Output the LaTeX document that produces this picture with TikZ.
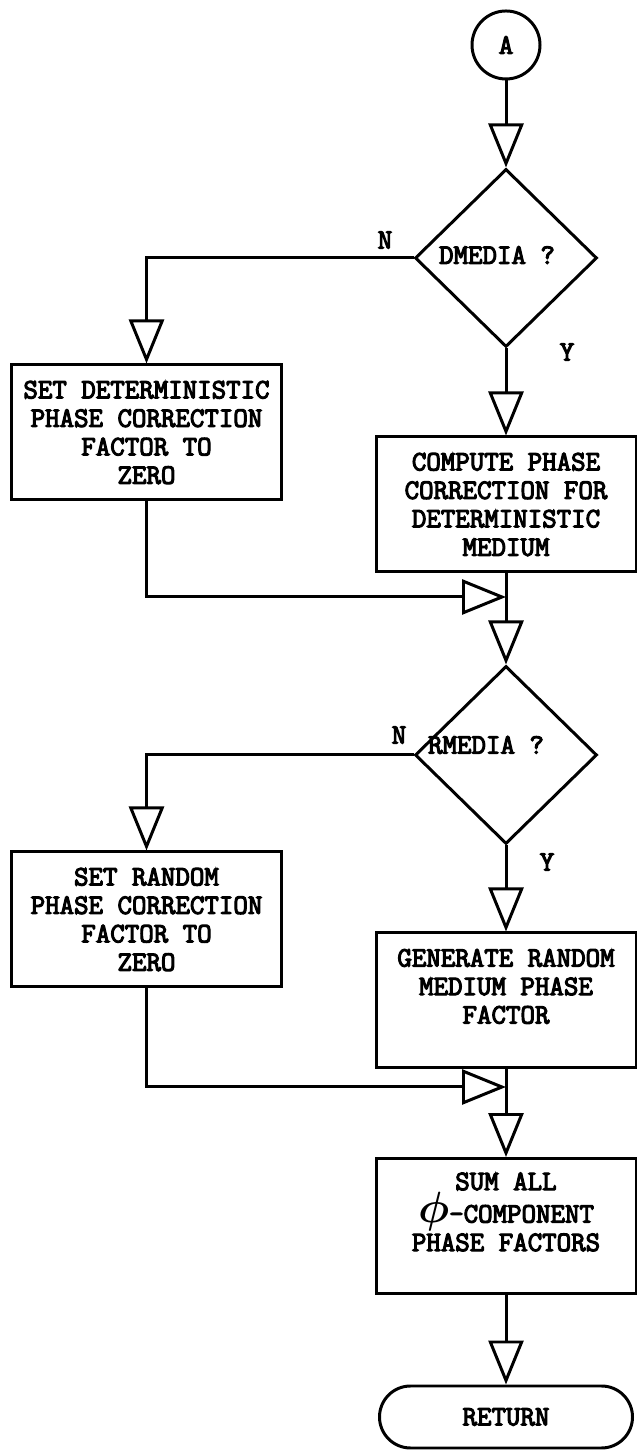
\documentclass[tikz,border=0pt]{standalone}
\usepackage{fontspec}
\setmonofont{Latin Modern Mono}[FakeBold=4]
\usetikzlibrary{shapes.geometric,arrows.meta}

\begin{document}
\begin{tikzpicture}[
  line width=1.7pt,
  every node/.style={font=\ttfamily\bfseries\fontsize{16}{16.2}\selectfont},
  box/.style={draw, rectangle, align=center, inner sep=2pt, minimum height=2.7cm},
  rombo/.style={draw, diamond, minimum width=3.64cm, minimum height=3.56cm, inner sep=0pt},
  flow/.style={-{Triangle[open, length=0.88cm, width=0.7cm]}}
]
\useasboundingbox (0,0) rectangle (12.74,29.02);
% blocchi
\node[draw, circle, minimum size=1.36cm, inner sep=0pt] (A) at (10.12,28.12) {A};
\node[rombo, label={[xshift=-0.18cm, yshift=0.06cm]center:DMEDIA ?}] (dmedia) at (10.12,23.86) {};
\node[box, minimum width=5.4cm] (setdet) at (2.93,20.37) {SET DETERMINISTIC\\PHASE CORRECTION\\FACTOR TO\\ZERO};
\node[box, minimum width=5.2cm] (compute) at (10.12,18.93) {COMPUTE PHASE\\CORRECTION FOR\\DETERMINISTIC\\MEDIUM};
\coordinate (j1) at (10.12,17.08);
\node[rombo, label={[xshift=-0.4cm, yshift=0.2cm]center:RMEDIA ?}] (rmedia) at (10.12,13.92) {};
\node[box, minimum width=5.4cm] (setran) at (2.93,10.63) {SET RANDOM\\PHASE CORRECTION\\FACTOR TO\\ZERO};
\node[box, minimum width=5.2cm] (generate) at (10.12,9.01) {GENERATE RANDOM\\MEDIUM PHASE\\FACTOR\\\mbox{}};
\coordinate (j2) at (10.12,7.28);
\node[box, minimum width=5.2cm] (sum) at (10.12,4.50) {SUM ALL\\{\Huge\boldmath$\phi$}-COMPONENT\\PHASE FACTORS\\\mbox{}};
\node[draw, rectangle, rounded corners=0.62cm, minimum width=5.06cm, minimum height=1.24cm] (ret) at (10.12,0.68) {RETURN};
% etichette
\node (n1) at (7.70,24.22) {N};
\node (y1) at (11.34,21.98) {Y};
\node (n2) at (7.98,14.32) {N};
\node (y2) at (10.94,11.78) {Y};
% frecce
\draw[flow] (A) -- (dmedia);
\draw[flow] (dmedia.west) -| (setdet);
\draw[flow] (dmedia) -- (compute);
\draw[flow] (setdet) |- (j1);
\draw[flow] (compute) -- (rmedia);
\draw[flow] (rmedia.west) -| (setran);
\draw[flow] (rmedia) -- (generate);
\draw[flow] (setran) |- (j2);
\draw[flow] (generate) -- (sum);
\draw[flow] (sum) -- (ret);
\end{tikzpicture}
\end{document}
